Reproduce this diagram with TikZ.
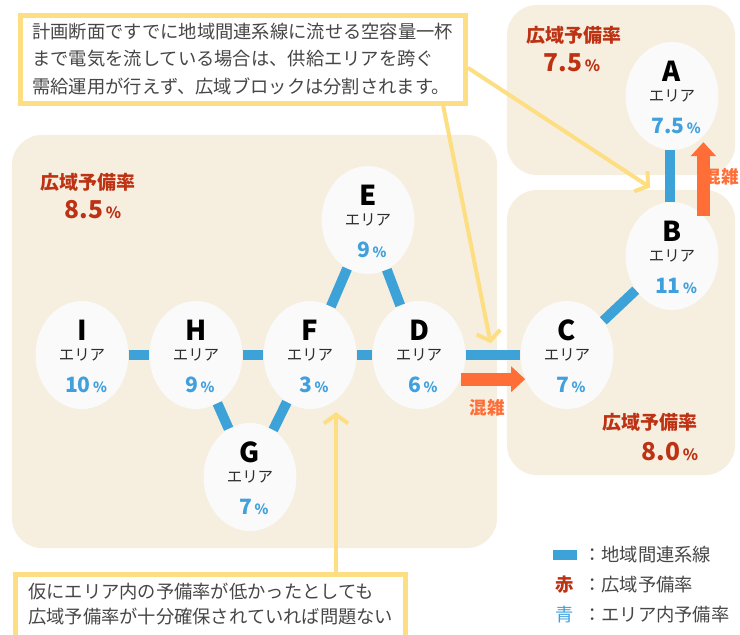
\documentclass[tikz,border=0pt]{standalone}
\usepackage{fontspec}
\setmainfont{Noto Sans CJK JP}
\usetikzlibrary{arrows.meta,positioning,shapes.geometric,calc}

\definecolor{panelbg}{RGB}{246,239,224}
\definecolor{areafill}{RGB}{250,250,250}
\definecolor{areatext}{RGB}{45,45,45}
\definecolor{linkblue}{RGB}{60,162,216}
\definecolor{pctblue}{RGB}{64,160,222}
\definecolor{widered}{RGB}{190,50,20}
\definecolor{jamorange}{RGB}{255,110,55}
\definecolor{hintyellow}{RGB}{253,222,130}
\definecolor{hinttext}{RGB}{70,70,70}

\begin{document}
\begin{tikzpicture}[x=0.025cm, y=-0.025cm,
  panel/.style={fill=panelbg, rounded corners=0.75cm, inner sep=0pt},
  area/.style={ellipse, fill=areafill, minimum width=2.32cm, minimum height=2.7cm, inner sep=0pt},
  arealetter/.style={font=\bfseries\fontsize{19.5}{20}\selectfont, text=black, inner sep=0pt},
  areaname/.style={font=\fontsize{11}{12}\selectfont, text=areatext, inner sep=0pt},
  areapct/.style={font=\bfseries\fontsize{15}{16}\selectfont, text=pctblue, inner sep=0pt},
  link/.style={draw=linkblue, line width=0.25cm},
  jam/.style={draw=jamorange, line width=0.32cm, -{Triangle[length=0.35cm, width=0.62cm]}},
  jamlabel/.style={font=\bfseries\fontsize{12.5}{13}\selectfont, text=jamorange},
  widelabel/.style={font=\bfseries\fontsize{13.5}{14}\selectfont, text=widered, inner sep=0pt},
  widepct/.style={font=\bfseries\fontsize{17.5}{18}\selectfont, text=widered, inner sep=0pt},
  hint/.style={align=left, text=hinttext, inner xsep=0.31cm},
  hintbox/.style={hint, draw=hintyellow, line width=0.125cm, fill=white},
  hintline/.style={draw=hintyellow, line width=0.125cm},
  hintarrow/.style={draw=hintyellow, line width=0.1cm, -{Straight Barb[length=0.22cm, width=0.6cm]}},
  legend/.style={font=\fontsize{13}{14}\selectfont, text=hinttext, inner sep=0pt},
]
\useasboundingbox (0,0) rectangle (740,634);

% blocks
\node[panel, minimum width=12.125cm, minimum height=10.325cm] (westblock) at (254.5,341.5) {};
\node[panel, minimum width=5.7cm, minimum height=4.25cm] (northblock) at (621,90) {};
\node[panel, minimum width=5.7cm, minimum height=7.125cm] (southblock) at (621,332.5) {};

\node[widelabel] (westlabel) at (88,182) {広域予備率};
\node[widepct] (westpct) at (93,210) {8.5{\fontsize{11}{11}\selectfont\,\%}};
\node[widelabel] (northlabel) at (574,35) {広域予備率};
\node[widepct] (northpct) at (572,63) {7.5{\fontsize{11}{11}\selectfont\,\%}};
\node[widelabel] (southlabel) at (650,422) {広域予備率};
\node[widepct] (southpct) at (670,452) {8.0{\fontsize{11}{11}\selectfont\,\%}};

% areas
\foreach \ar/\px/\py/\pct in {A/672/96/7.5, B/672/256/11, C/567/355/7, D/419/355/6, E/368/220/9, F/310/355/3, G/250/477/7, H/196/355/9, I/82/355/10} {
  \node[area] (\ar) at (\px,\py) {};
  \node[arealetter] (\ar-letter) at ([yshift=0.62cm]\ar.center) {\ar};
  \node[areaname] (\ar-name) at (\ar.center) {エリア};
  \node[areapct] (\ar-pct) at ([xshift=0.1cm, yshift=-0.75cm]\ar.center) {\pct{\fontsize{10}{10}\selectfont\,\%}};
}

% links
\draw[link] (I) -- (H);
\draw[link] (H) -- (F);
\draw[link] (F) -- (D);
\draw[link] (F) -- (E);
\draw[link] (E) -- (D);
\draw[link] (H) -- (G);
\draw[link] (G) -- (F);
\draw[link] (D) -- (C);
\draw[link] (C) -- (B);
\draw[link] ([xshift=-0.05cm]A.south) -- ([xshift=-0.05cm]B.north);
\coordinate (DC) at ($(D.east)!0.5!(C.west)$);

% congestion
\draw[jam] (D.330) -- (C.210);
\draw[jam, shorten >=0.15cm] (B.52) -- (A.-52);
\node[jamlabel] (jam1) at (487,408) {混雑};
\node[jamlabel, anchor=east, inner sep=0pt] (jam2) at (739,177) {混雑};

% notes
\node[hintbox, anchor=north west, minimum height=2.2cm, font=\fontsize{13}{19.6}\selectfont] (hint1) at (17.5,12.5) {計画断面ですでに地域間連系線に流せる空容量一杯\\まで電気を流している場合は、供給エリアを跨ぐ\\需給運用が行えず、広域ブロックは分割されます。};
\draw[hintarrow, shorten >=0.3cm] ($(hint1.south east)+(-0.62cm,0)$) -- (DC);
\draw[hintarrow, shorten >=0.65cm] ($(hint1.east)+(0,-0.22cm)$) -- (B.north);

\node[hint, anchor=north west, inner ysep=0.2cm, font=\fontsize{13}{17.8}\selectfont] (hint2) at (15.5,574.5) {仮にエリア内の予備率が低かったとしても\\広域予備率が十分確保されていれば問題ない};
\draw[hintline] ([yshift=-1cm]hint2.south west) |- (hint2.north east) -- ([yshift=-1cm]hint2.south east);
\draw[hintarrow, shorten >=0.3cm] (hint2.north -| F.300) -- (F.300);

% legend
\node[fill=linkblue, minimum width=0.6cm, minimum height=0.25cm, inner sep=0pt] (legbar) at (565,555) {};
\node[legend, anchor=west] (leglink) at (583,555) {：地域間連系線};
\node[legend, font=\bfseries\fontsize{13}{14}\selectfont, text=widered] (legred) at (565,585) {赤};
\node[legend, anchor=west] (legwide) at (583,585) {：広域予備率};
\node[legend, text=pctblue] (legblue) at (565,615) {青};
\node[legend, anchor=west] (legarea) at (583,615) {：エリア内予備率};
\end{tikzpicture}
\end{document}
